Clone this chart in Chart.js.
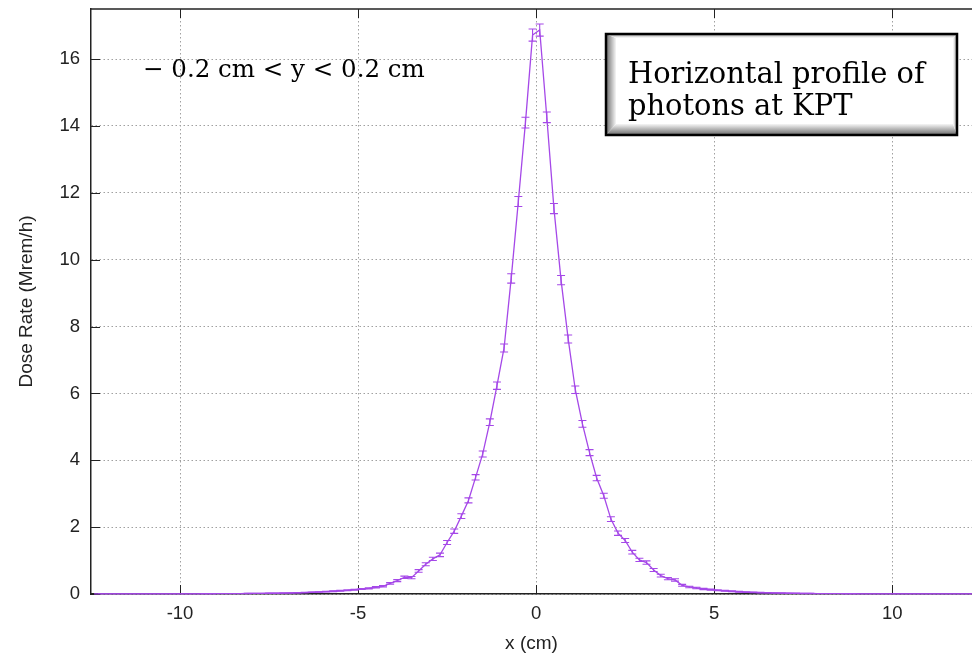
<!DOCTYPE html>
<html>
<head>
<meta charset="utf-8">
<script src="https://cdn.jsdelivr.net/npm/chart.js@4.4.1/dist/chart.umd.min.js"></script>
<style>
  html, body { margin: 0; padding: 0; background: #fff; }
  #wrap { width: 972px; height: 655px; }
</style>
</head>
<body>
<div id="wrap"><canvas id="dose-chart" width="972" height="655"></canvas></div>
<script>
// bin centres (cm), 0.2 cm bins
const xs = [
  -12.3,-12.1,-11.9,-11.7,-11.5,-11.3,-11.1,-10.9,-10.7,-10.5,
  -10.3,-10.1,-9.9,-9.7,-9.5,-9.3,-9.1,-8.9,-8.7,-8.5,
  -8.3,-8.1,-7.9,-7.7,-7.5,-7.3,-7.1,-6.9,-6.7,-6.5,
  -6.3,-6.1,-5.9,-5.7,-5.5,-5.3,-5.1,-4.9,-4.7,-4.5,
  -4.3,-4.1,-3.9,-3.7,-3.5,-3.3,-3.1,-2.9,-2.7,-2.5,
  -2.3,-2.1,-1.9,-1.7,-1.5,-1.3,-1.1,-0.9,-0.7,-0.5,
  -0.3,-0.1,
  0.1,0.3,0.5,0.7,0.9,1.1,1.3,1.5,1.7,1.9,
  2.1,2.3,2.5,2.7,2.9,3.1,3.3,3.5,3.7,3.9,
  4.1,4.3,4.5,4.7,4.9,5.1,5.3,5.5,5.7,5.9,
  6.1,6.3,6.5,6.7,6.9,7.1,7.3,7.5,7.7,7.9,
  8.1,8.3,8.5,8.7,8.9,9.1,9.3,9.5,9.7,9.9,
  10.1,10.3,10.5,10.7,10.9,11.1,11.3,11.5,11.7,11.9,
  12.1,12.3
];
// dose rate (Mrem/h)
const dose = [
  0.004,0.003,0.003,0.002,0.003,0.002,0.003,0.003,0.004,0.004,
  0.004,0.005,0.005,0.006,0.006,0.007,0.008,0.009,0.010,0.011,
  0.013,0.015,0.017,0.019,0.022,0.025,0.029,0.033,0.038,0.044,
  0.052,0.060,0.070,0.082,0.095,0.11,0.13,0.15,0.17,0.20,
  0.23,0.32,0.40,0.50,0.49,0.69,0.89,1.05,1.17,1.54,
  1.88,2.33,2.80,3.49,4.19,5.14,6.23,7.36,9.44,11.74,
  14.1,16.72,
  16.87,14.26,11.53,9.39,7.63,6.11,5.09,4.23,3.47,2.94,
  2.24,1.82,1.60,1.25,1.02,0.94,0.72,0.55,0.46,0.42,
  0.26,0.21,0.18,0.15,0.13,0.11,0.095,0.08,0.068,0.058,
  0.05,0.043,0.036,0.031,0.027,0.023,0.02,0.017,0.015,0.013,
  0.011,0.010,0.009,0.008,0.007,0.006,0.006,0.005,0.005,0.004,
  0.004,0.003,0.003,0.003,0.002,0.002,0.002,0.002,0.002,0.002,
  0.002,0.002
];
// statistical error (+/-)
const doseErr = [
  0.002,0.002,0.002,0.002,0.002,0.002,0.002,0.002,0.002,0.002,
  0.002,0.002,0.002,0.003,0.003,0.003,0.003,0.003,0.003,0.004,
  0.004,0.004,0.004,0.005,0.005,0.005,0.006,0.006,0.007,0.007,
  0.008,0.009,0.010,0.011,0.012,0.013,0.014,0.016,0.018,0.020,
  0.022,0.026,0.030,0.035,0.035,0.04,0.045,0.05,0.052,0.06,
  0.065,0.07,0.075,0.08,0.09,0.10,0.11,0.12,0.14,0.15,
  0.16,0.18,
  0.18,0.16,0.15,0.14,0.12,0.11,0.10,0.09,0.08,0.075,
  0.07,0.065,0.06,0.055,0.05,0.05,0.045,0.04,0.035,0.035,
  0.028,0.024,0.021,0.018,0.016,0.014,0.013,0.012,0.011,0.010,
  0.009,0.008,0.007,0.007,0.006,0.006,0.005,0.005,0.004,0.004,
  0.004,0.003,0.003,0.003,0.003,0.003,0.003,0.002,0.002,0.002,
  0.002,0.002,0.002,0.002,0.002,0.002,0.002,0.002,0.002,0.002,
  0.002,0.002
];
const xTicks = [-10, -5, 0, 5, 10];
const yTicks = [0, 2, 4, 6, 8, 10, 12, 14, 16];
const rangeLabel = '\u2212 0.2 cm < y < 0.2 cm';
const boxLines = ['Horizontal profile of', 'photons at KPT'];

const lineColor = '#a548e8';
const tickFont = { family: 'Liberation Sans', size: 18.5 };
const titleFont = { family: 'Liberation Sans', size: 19 };
const textColor = '#222';

// fit a serif string to a given width
function fitFont(ctx, text, width) {
  ctx.font = '100px "DejaVu Serif"';
  const s = 100 * width / ctx.measureText(text).width;
  return s.toFixed(1) + 'px "DejaVu Serif"';
}

const errorBars = {
  id: 'errorBars',
  afterDatasetsDraw(chart) {
    const {ctx, scales: {x, y}} = chart;
    ctx.save();
    ctx.strokeStyle = lineColor;
    ctx.lineWidth = 1.1;
    ctx.beginPath();
    for (let i = 0; i < xs.length; i++) {
      const px = x.getPixelForValue(xs[i]);
      const lo = y.getPixelForValue(dose[i] - doseErr[i]);
      const hi = y.getPixelForValue(dose[i] + doseErr[i]);
      ctx.moveTo(px, lo); ctx.lineTo(px, hi);
      ctx.moveTo(px - 4, lo); ctx.lineTo(px + 4, lo);
      ctx.moveTo(px - 4, hi); ctx.lineTo(px + 4, hi);
    }
    ctx.stroke();
    ctx.restore();
  }
};

const frame = {
  id: 'frame',
  beforeDatasetsDraw(chart) {
    const {ctx, chartArea: a, scales: {x, y}} = chart;
    ctx.save();
    ctx.strokeStyle = '#222';
    ctx.lineWidth = 1;
    ctx.beginPath();
    xTicks.forEach(v => {
      const px = Math.round(x.getPixelForValue(v)) + 0.5;
      ctx.moveTo(px, a.bottom); ctx.lineTo(px, a.bottom - 9);
      ctx.moveTo(px, a.top); ctx.lineTo(px, a.top + 9);
    });
    yTicks.forEach(v => {
      const py = Math.round(y.getPixelForValue(v)) + 0.5;
      ctx.moveTo(a.left, py); ctx.lineTo(a.left + 9, py);
    });
    ctx.stroke();
    ctx.lineWidth = 1.5;
    ctx.beginPath();
    ctx.moveTo(a.left, a.top); ctx.lineTo(a.right, a.top);
    ctx.stroke();
    ctx.restore();
  },
  afterDraw(chart) {
    const ctx = chart.ctx;
    ctx.save();
    // range note
    ctx.fillStyle = '#000';
    ctx.textBaseline = 'alphabetic';
    ctx.font = fitFont(ctx, rangeLabel, 282);
    ctx.fillText(rangeLabel, 143, 77);

    // bevelled label box
    const bx = 606, by = 34, bw = 351, bh = 101;
    ctx.fillStyle = '#fff';
    ctx.fillRect(bx, by, bw, bh);
    let g = ctx.createLinearGradient(bx, 0, bx + 10, 0);
    g.addColorStop(0, '#6a6a6a'); g.addColorStop(1, '#f6f6f6');
    ctx.fillStyle = g;
    ctx.beginPath();
    ctx.moveTo(bx, by); ctx.lineTo(bx + 10, by + 4); ctx.lineTo(bx + 10, by + bh - 11); ctx.lineTo(bx, by + bh);
    ctx.closePath(); ctx.fill();
    g = ctx.createLinearGradient(0, by + bh - 11, 0, by + bh);
    g.addColorStop(0, '#f6f6f6'); g.addColorStop(1, '#6a6a6a');
    ctx.fillStyle = g;
    ctx.beginPath();
    ctx.moveTo(bx, by + bh); ctx.lineTo(bx + 10, by + bh - 11); ctx.lineTo(bx + bw - 4, by + bh - 11); ctx.lineTo(bx + bw, by + bh);
    ctx.closePath(); ctx.fill();
    g = ctx.createLinearGradient(0, by, 0, by + 4);
    g.addColorStop(0, '#999'); g.addColorStop(1, '#fff');
    ctx.fillStyle = g;
    ctx.beginPath();
    ctx.moveTo(bx, by); ctx.lineTo(bx + bw, by); ctx.lineTo(bx + bw - 4, by + 4); ctx.lineTo(bx + 10, by + 4);
    ctx.closePath(); ctx.fill();
    g = ctx.createLinearGradient(bx + bw - 4, 0, bx + bw, 0);
    g.addColorStop(0, '#fff'); g.addColorStop(1, '#999');
    ctx.fillStyle = g;
    ctx.beginPath();
    ctx.moveTo(bx + bw, by); ctx.lineTo(bx + bw, by + bh); ctx.lineTo(bx + bw - 4, by + bh - 11); ctx.lineTo(bx + bw - 4, by + 4);
    ctx.closePath(); ctx.fill();
    ctx.strokeStyle = '#000';
    ctx.lineWidth = 2.5;
    ctx.strokeRect(bx, by, bw, bh);

    ctx.fillStyle = '#000';
    ctx.font = fitFont(ctx, boxLines[0], 297);
    ctx.fillText(boxLines[0], 628, 83);
    ctx.fillText(boxLines[1], 628, 115);
    ctx.restore();
  }
};

new Chart(document.getElementById('dose-chart'), {
  type: 'line',
  data: {
    datasets: [{
      data: xs.map((v, i) => ({ x: v, y: dose[i] })),
      borderColor: lineColor,
      borderWidth: 1.3,
      pointRadius: 0,
      tension: 0,
      fill: false
    }]
  },
  options: {
    responsive: false,
    animation: false,
    devicePixelRatio: 1,
    layout: { padding: { top: 9, left: 0, right: 0, bottom: 0 } },
    plugins: { legend: { display: false }, tooltip: { enabled: false } },
    scales: {
      x: {
        type: 'linear',
        min: -12.5,
        max: 12.24,
        afterBuildTicks: s => { s.ticks = xTicks.map(v => ({ value: v })); },
        afterFit: s => { s.height = 61; s.paddingLeft = 0; s.paddingRight = 0; },
        grid: { color: '#a0a0a0', lineWidth: 1, drawTicks: false },
        border: { color: '#222', width: 1.5, dash: [1.5, 2.5] },
        ticks: { padding: 9, font: tickFont, color: textColor, maxRotation: 0 },
        title: { display: true, text: 'x (cm)', font: titleFont, color: textColor, padding: { top: 0, bottom: 0 } }
      },
      y: {
        min: 0,
        max: 17.5,
        afterBuildTicks: s => { s.ticks = yTicks.map(v => ({ value: v })); },
        afterFit: s => { s.width = 91; s.paddingTop = 0; s.paddingBottom = 0; },
        grid: { color: '#a0a0a0', lineWidth: 1, drawTicks: false },
        border: { color: '#222', width: 1.5, dash: [1.5, 2.5] },
        ticks: { padding: 11, font: tickFont, color: textColor },
        title: { display: true, text: 'Dose Rate (Mrem/h)', font: titleFont, color: textColor, padding: { top: 15, bottom: 0 } }
      }
    }
  },
  plugins: [errorBars, frame]
});
</script>
</body>
</html>
